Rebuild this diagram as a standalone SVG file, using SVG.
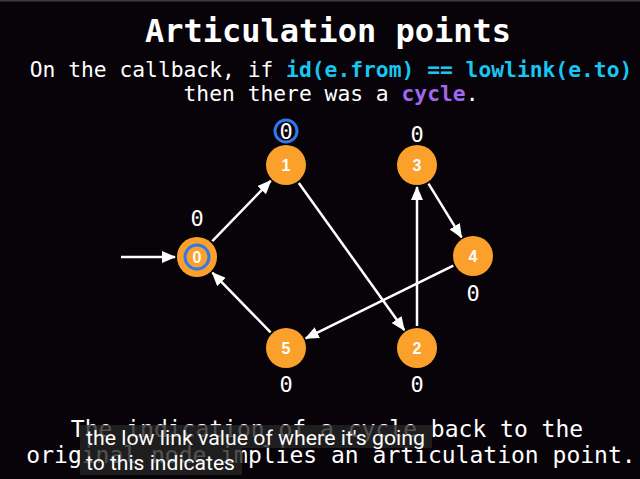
<svg xmlns="http://www.w3.org/2000/svg" width="640" height="479" viewBox="0 0 640 479">
<defs>
<style>
.mono{font-family:"DejaVu Sans Mono","Liberation Mono",monospace;fill:#ffffff}
.title{font-size:32px;font-weight:bold}
.sub{font-size:21.3px}
.bot{font-size:23px}
.lbl{font-size:22px;text-anchor:middle}
.node{fill:#fba12b}
.nid{font-family:"Liberation Sans","DejaVu Sans",sans-serif;font-weight:bold;font-size:16px;fill:#ffffff;text-anchor:middle}
.edge{stroke:#ffffff;stroke-width:2.5;fill:none;marker-end:url(#ah)}
.ring{fill:none;stroke:#2f78ee;stroke-width:3}
.cap{font-family:Roboto,"Liberation Sans",sans-serif;font-size:20px;fill:#ffffff}
.capbox{fill:#262626;fill-opacity:0.8}
</style>
<marker id="ah" markerUnits="userSpaceOnUse" markerWidth="14" markerHeight="12" viewBox="0 0 14 12" refX="13" refY="6" orient="auto">
<path d="M0,0 L14,6 L0,12 Z" fill="#ffffff"/>
</marker>
</defs>
<rect x="0" y="0" width="640" height="479" fill="#070308"/>
<rect x="0" y="0" width="640" height="1.5" fill="#3a3a3a"/>
<g id="texts">
<text class="mono title" x="328" y="42" text-anchor="middle">Articulation points</text>
<text class="mono sub" x="331" y="77" text-anchor="middle">On the callback, if <tspan fill="#19c6f2" font-weight="bold">id(e.from) == lowlink(e.to)</tspan></text>
<text class="mono sub" x="331" y="101" text-anchor="middle">then there was a <tspan fill="#a068f0" font-weight="bold">cycle</tspan>.</text>
<text class="mono bot" x="327" y="437" text-anchor="middle">The indication of a cycle back to the</text>
<text class="mono bot" x="331" y="463" text-anchor="middle">original node implies an articulation point.</text>
</g>
<g id="connectors">
<line class="edge" x1="121" y1="257" x2="175" y2="257"/>
<line class="edge" x1="212.3" y1="241.2" x2="270.7" y2="180.8"/>
<line class="edge" x1="298.8" y1="182.9" x2="404.2" y2="330.1"/>
<line class="edge" x1="417" y1="326" x2="417" y2="187"/>
<line class="edge" x1="428.5" y1="183.7" x2="461.5" y2="237.3"/>
<line class="edge" x1="453.3" y1="265.7" x2="305.7" y2="338.3"/>
<line class="edge" x1="270.6" y1="332.3" x2="212.4" y2="272.7"/>
</g>
<g id="node0">
<circle class="node" cx="197" cy="257" r="20"/>
<circle class="ring" cx="197" cy="257" r="12"/>
<text class="nid" x="197" y="263">0</text>
<text class="mono lbl" x="197" y="226">0</text>
</g>
<g id="node1">
<circle class="node" cx="286" cy="165" r="20"/>
<text class="nid" x="286" y="171">1</text>
<circle class="ring" cx="286" cy="131" r="11"/>
<text class="mono lbl" x="286" y="139">0</text>
</g>
<g id="node2">
<circle class="node" cx="417" cy="348" r="20"/>
<text class="nid" x="417" y="354">2</text>
<text class="mono lbl" x="417" y="392">0</text>
</g>
<g id="node3">
<circle class="node" cx="417" cy="165" r="20"/>
<text class="nid" x="417" y="171">3</text>
<text class="mono lbl" x="417" y="142">0</text>
</g>
<g id="node4">
<circle class="node" cx="473" cy="256" r="20"/>
<text class="nid" x="473" y="262">4</text>
<text class="mono lbl" x="473" y="301">0</text>
</g>
<g id="node5">
<circle class="node" cx="286" cy="348" r="20"/>
<text class="nid" x="286" y="354">5</text>
<text class="mono lbl" x="286" y="392">0</text>
</g>
<g id="caption">
<rect class="capbox" x="80" y="425" width="352" height="23"/>
<rect class="capbox" x="80" y="448" width="162" height="27"/>
<text class="cap" x="86" y="445" textLength="339" lengthAdjust="spacingAndGlyphs">the low link value of where it's going</text>
<text class="cap" x="86" y="470" textLength="149" lengthAdjust="spacingAndGlyphs">to this indicates</text>
</g>
</svg>
